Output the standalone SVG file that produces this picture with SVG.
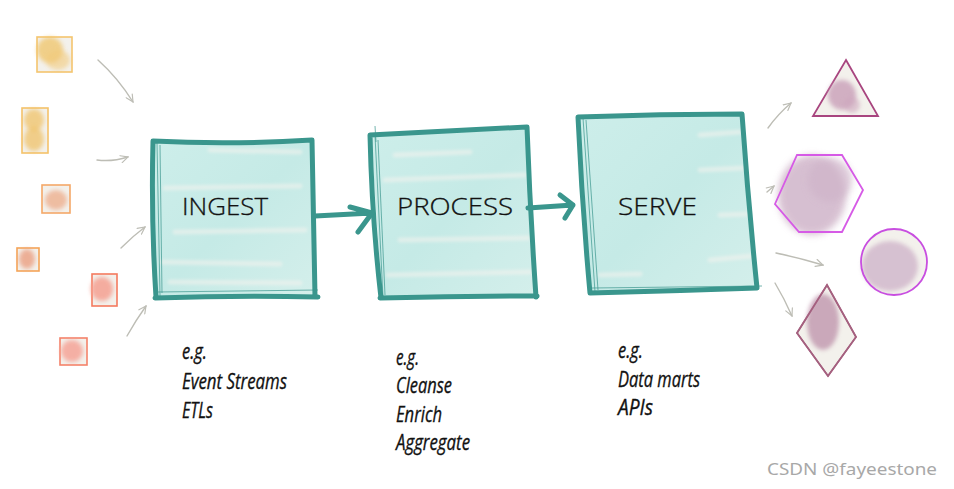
<svg xmlns="http://www.w3.org/2000/svg" width="954" height="489" viewBox="0 0 954 489">
<defs>
<style>
.box{fill:url(#aqua);}
.edge{fill:none;stroke:#3a968d;stroke-width:5;stroke-linecap:round;stroke-linejoin:round;}
.thin{fill:none;stroke:#3a968d;stroke-width:1;opacity:0.7;}
.streak{fill:none;stroke:#f4f3ee;stroke-linecap:round;opacity:0.55;}
.title{font-family:"Open Sans","Noto Sans",sans-serif;font-weight:300;font-size:24px;fill:#111;stroke:#111;stroke-width:0.3;}
.note{font-family:"Open Sans","DejaVu Sans",sans-serif;font-style:italic;font-weight:400;font-size:22px;fill:#111;stroke:#111;stroke-width:0.35;}
.src{fill:#f3f1ec;stroke-width:1.6;}
.gray{fill:none;stroke:#bdbdb5;stroke-width:1.4;stroke-linecap:round;}
.shape{fill:#f3f1ec;stroke-width:1.8;}
.wm{font-family:"Noto Sans","Open Sans",sans-serif;font-size:17px;fill:#a8a8a8;}
</style>
<linearGradient id="aqua" x1="0" y1="0" x2="1" y2="1">
<stop offset="0" stop-color="#cdeeea"/>
<stop offset="0.5" stop-color="#c5eae6"/>
<stop offset="1" stop-color="#d4efeb"/>
</linearGradient>
<filter id="blur" x="-50%" y="-50%" width="200%" height="200%"><feGaussianBlur stdDeviation="2"/></filter>
<filter id="blur2" x="-50%" y="-50%" width="200%" height="200%"><feGaussianBlur stdDeviation="3.5"/></filter>
<filter id="soft" x="-20%" y="-50%" width="140%" height="200%"><feGaussianBlur stdDeviation="1.5"/></filter>
<marker id="oa" viewBox="0 0 10 10" refX="9" refY="5" markerWidth="9" markerHeight="9" markerUnits="userSpaceOnUse" orient="auto">
<path d="M1,1 L9,5 L1,9" fill="none" stroke="#bdbdb5" stroke-width="1.3" stroke-linecap="round"/>
</marker>
</defs>
<rect width="954" height="489" fill="#ffffff"/>

<!-- sources -->
<g id="src1">
<rect class="src" x="37" y="37" width="35" height="35" stroke="#f4c56e"/>
<ellipse cx="50" cy="50" rx="13" ry="13" fill="#f0c468" opacity="0.75" filter="url(#blur)"/>
<ellipse cx="58" cy="60" rx="12" ry="10" fill="#f2ca7c" opacity="0.6" filter="url(#blur)"/>
</g>
<g id="src2">
<rect class="src" x="22" y="108" width="26" height="45" stroke="#f4c26a"/>
<ellipse cx="34" cy="120" rx="10" ry="11" fill="#f0c060" opacity="0.7" filter="url(#blur)"/>
<ellipse cx="34" cy="139" rx="10" ry="12" fill="#efbf60" opacity="0.7" filter="url(#blur)"/>
</g>
<g id="src3">
<rect class="src" x="42" y="185" width="28" height="28" stroke="#f4a868"/>
<ellipse cx="56" cy="200" rx="11" ry="10" fill="#eeb495" opacity="0.85" filter="url(#blur)"/>
</g>
<g id="src4">
<rect class="src" x="17" y="248" width="22" height="23" stroke="#f4a458"/>
<ellipse cx="27" cy="259" rx="8" ry="10" fill="#eba488" opacity="0.85" filter="url(#blur)"/>
</g>
<g id="src5">
<rect class="src" x="92" y="274" width="25" height="32" stroke="#f47a5e"/>
<ellipse cx="102" cy="289" rx="11" ry="12" fill="#f5a092" opacity="0.85" filter="url(#blur)"/>
</g>
<g id="src6">
<rect class="src" x="60" y="338" width="27" height="27" stroke="#f4826a"/>
<ellipse cx="72" cy="351" rx="11" ry="11" fill="#f5a498" opacity="0.85" filter="url(#blur)"/>
</g>

<!-- main boxes -->
<g id="ingest">
<rect class="box" x="155" y="142" width="158" height="155"/>
<g filter="url(#soft)">
<path class="streak" stroke-width="5" d="M165,188 L300,186 M175,232 L305,230 M162,262 L280,264 M210,150 L300,152 M170,282 L300,283"/>
</g>
<path class="edge" d="M153,141 Q230,145 312,140 L315,296 M153,141 Q151,220 156,297 M155,298 Q240,295 318,297"/>
<path class="thin" d="M157,143 L160,296 M160,145 L162,293 M158,292 L318,290"/>
<text class="title" x="182" y="215" textLength="86" lengthAdjust="spacingAndGlyphs">INGEST</text>
</g>
<g id="process">
<path class="box" d="M371,136 L527,129 L535,296 L382,297 Z"/>
<g filter="url(#soft)">
<path class="streak" stroke-width="5" d="M385,180 L525,175 M400,240 L528,238 M388,275 L530,272 M395,155 L470,152"/>
</g>
<path class="edge" d="M370,135 Q450,131 527,127 Q530,210 536,297 M370,135 Q372,220 381,298 M380,298 Q460,296 537,296"/>
<path class="thin" d="M375,135 L383,298 M378,140 L385,295 M375,126 L376,142"/>
<text class="title" x="397" y="215" textLength="116" lengthAdjust="spacingAndGlyphs">PROCESS</text>
</g>
<g id="serve">
<path class="box" d="M579,118 L742,114 L756,289 L591,293 Z"/>
<g filter="url(#soft)">
<path class="streak" stroke-width="5" d="M700,170 L745,168 M710,260 L752,256 M700,135 L740,132 M600,275 L640,274 M720,215 L750,214"/>
</g>
<path class="edge" d="M578,117 Q660,114 742,114 Q748,200 757,288 M578,117 Q582,205 590,293 M590,293 Q672,291 757,288"/>
<path class="thin" d="M583,118 L595,292 M586,120 L598,290 M592,288 L762,286"/>
<text class="title" x="618" y="215" textLength="79" lengthAdjust="spacingAndGlyphs">SERVE</text>
</g>

<!-- outputs -->
<g id="triangle">
<path class="shape" d="M846,60 L878,116 L813,116 Z" stroke="#a8457f"/>
<ellipse cx="842" cy="95" rx="14" ry="15" fill="#c69ab5" opacity="0.75" filter="url(#blur)"/>
<ellipse cx="852" cy="105" rx="8" ry="8" fill="#cda6bd" opacity="0.6" filter="url(#blur)"/>
</g>
<g id="hexagon">
<ellipse cx="812" cy="195" rx="34" ry="40" fill="#cdb0c6" opacity="0.8" filter="url(#blur2)"/>
<ellipse cx="830" cy="180" rx="22" ry="22" fill="#cfb4c9" opacity="0.7" filter="url(#blur2)"/>
<path d="M797,155 L842,155 L863,190 L842,232 L799,232 L775,204 Z" fill="none" stroke="#d65ae6" stroke-width="1.8"/>
</g>
<g id="circle">
<circle cx="894" cy="262" r="33" fill="#f3f1ec"/>
<ellipse cx="890" cy="266" rx="28" ry="25" fill="#cdb1c8" opacity="0.75" filter="url(#blur)"/>
<circle cx="894" cy="262" r="33" fill="none" stroke="#c84ee0" stroke-width="1.8"/>
</g>
<g id="diamond">
<path class="shape" d="M827,285 L856,337 L828,376 L797,333 Z" stroke="#a5607f"/>
<ellipse cx="823" cy="322" rx="16" ry="28" fill="#b98aa5" opacity="0.7" filter="url(#blur)"/>
<path d="M827,285 L856,337 L828,376 L797,333 Z" fill="none" stroke="#a5607f" stroke-width="1.5"/>
</g>

<!-- notes -->
<g id="notes">
<text class="note" x="182" y="359" textLength="25" lengthAdjust="spacingAndGlyphs">e.g.</text>
<text class="note" x="182" y="389" textLength="105" lengthAdjust="spacingAndGlyphs">Event Streams</text>
<text class="note" x="182" y="418" textLength="31" lengthAdjust="spacingAndGlyphs">ETLs</text>
<text class="note" x="396" y="365" textLength="23" lengthAdjust="spacingAndGlyphs">e.g.</text>
<text class="note" x="396" y="393" textLength="56" lengthAdjust="spacingAndGlyphs">Cleanse</text>
<text class="note" x="396" y="422" textLength="46" lengthAdjust="spacingAndGlyphs">Enrich</text>
<text class="note" x="396" y="450" textLength="74" lengthAdjust="spacingAndGlyphs">Aggregate</text>
<text class="note" x="618" y="358" textLength="25" lengthAdjust="spacingAndGlyphs">e.g.</text>
<text class="note" x="618" y="387" textLength="82" lengthAdjust="spacingAndGlyphs">Data marts</text>
<text class="note" x="618" y="415" textLength="35" lengthAdjust="spacingAndGlyphs">APIs</text>
</g>

<!-- connectors -->
<g id="connectors">
<path class="gray" marker-end="url(#oa)" d="M98,60 Q118,78 133,102"/>
<path class="gray" marker-end="url(#oa)" d="M97,160 Q112,162 128,157"/>
<path class="gray" marker-end="url(#oa)" d="M121,248 Q133,236 145,227"/>
<path class="gray" marker-end="url(#oa)" d="M127,336 Q136,320 146,306"/>
<path class="edge" d="M315,216 L372,213 M350,207 L372,213 L358,232"/>
<path class="edge" d="M528,208 L573,205 M560,195 L573,205 L565,218"/>
<path class="gray" marker-end="url(#oa)" d="M768,128 Q778,114 791,103"/>
<path class="gray" marker-end="url(#oa)" d="M767,192 L774,186"/>
<path class="gray" marker-end="url(#oa)" d="M776,253 Q800,258 823,265"/>
<path class="gray" marker-end="url(#oa)" d="M775,283 Q784,298 792,316"/>
</g>

<text class="wm" x="767" y="475" textLength="170" lengthAdjust="spacingAndGlyphs">CSDN @fayeestone</text>
</svg>
